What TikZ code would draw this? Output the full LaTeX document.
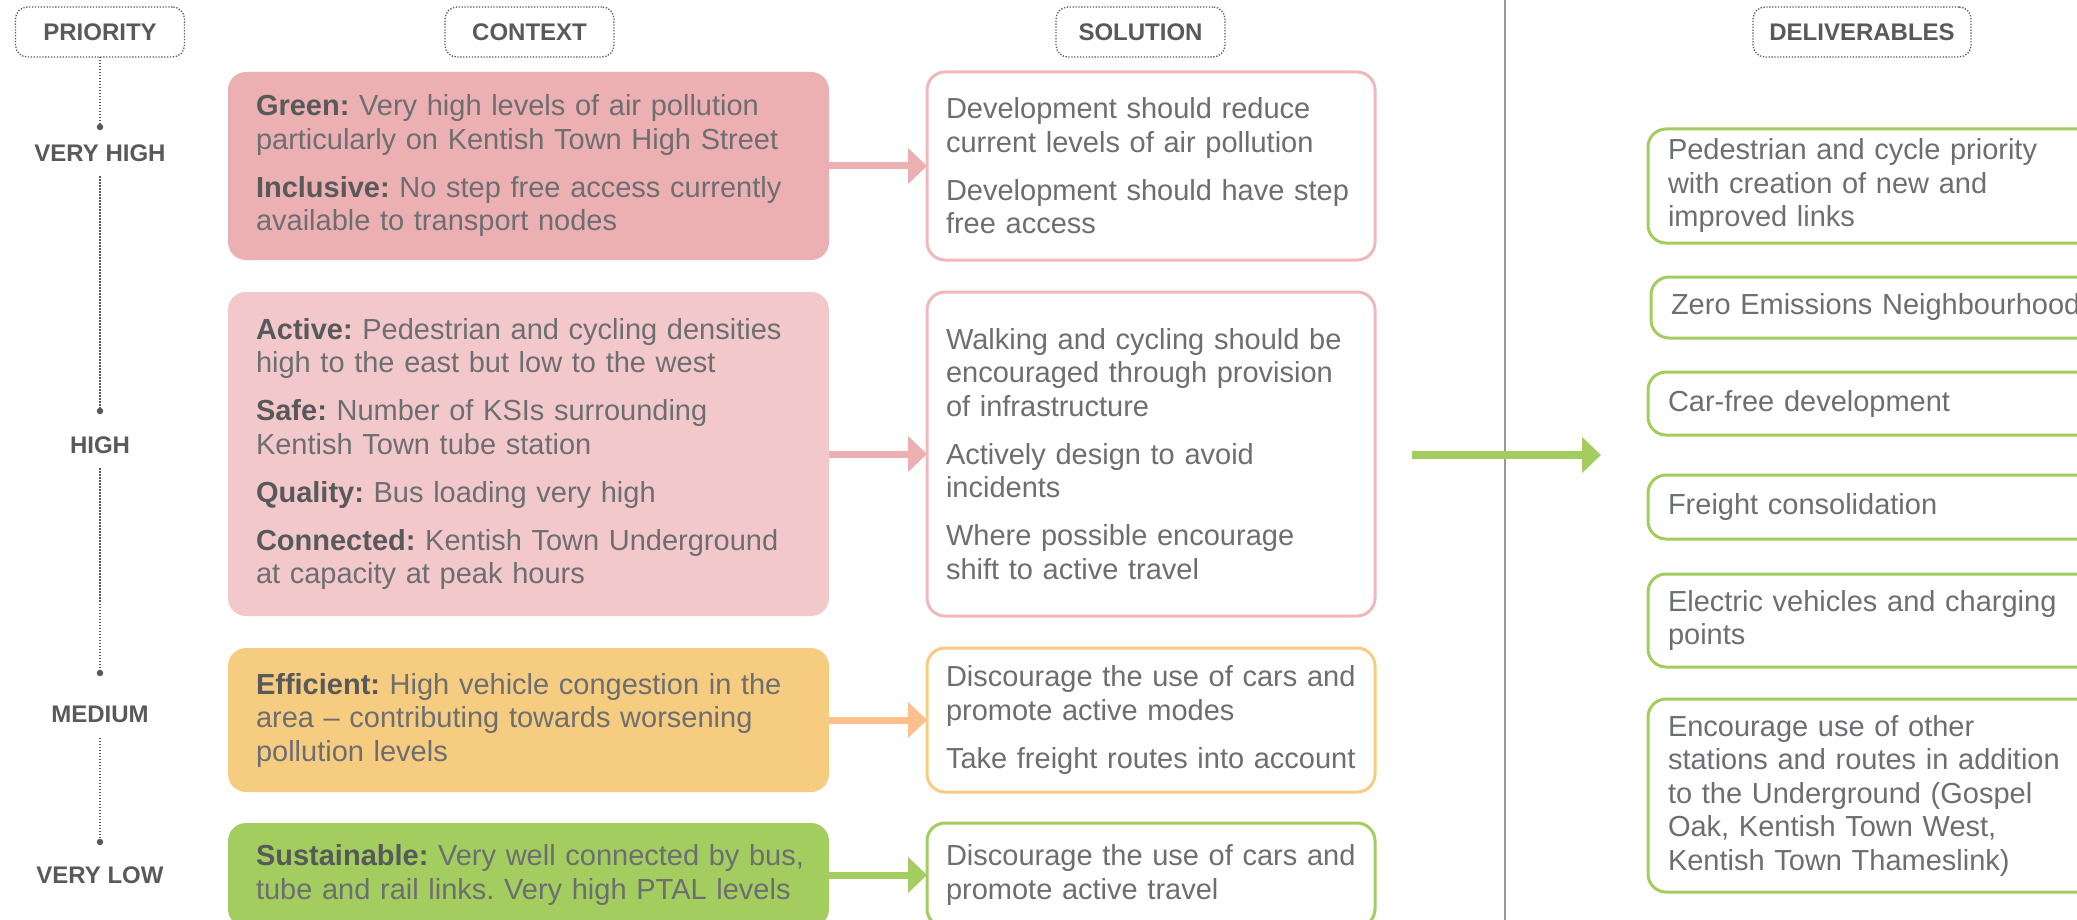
\documentclass[tikz,border=0pt]{standalone}
\usepackage{fontspec}
\setmainfont{Liberation Sans}
\usepackage{tikz}
\usetikzlibrary{arrows.meta, positioning}
\usepackage{xcolor}

\definecolor{txtgrey}{HTML}{6D6E71}
\definecolor{darkgrey}{HTML}{58595B}
\definecolor{redfill}{HTML}{EDB0B2}
\definecolor{pinkfill}{HTML}{F2C8CA}
\definecolor{orangefill}{HTML}{F6CC80}
\definecolor{greenfill}{HTML}{A3CD5F}
\definecolor{pinkline}{HTML}{EFB8BA}
\definecolor{peach}{HTML}{FBC08E}
\definecolor{sepgrey}{HTML}{9A9A9A}

\newcommand{\boldlbl}[1]{{\bfseries\color{darkgrey}#1}}
\frenchspacing

\begin{document}
\begin{tikzpicture}[x=1pt, y=-1pt,
    every node/.style={font=\fontsize{29}{33.5}\selectfont, text=txtgrey, outer sep=0pt},
    head/.style={draw=darkgrey, dash pattern=on 1.3pt off 1.6pt, line width=1.3pt,
        rounded corners=12pt, font=\fontsize{24}{28}\selectfont\bfseries, text=darkgrey,
        minimum width=169pt, minimum height=50pt, inner sep=0pt},
    prio/.style={font=\fontsize{24}{28}\selectfont\bfseries, text=darkgrey,
        inner xsep=0pt, inner ysep=15pt},
    dot/.style={circle, fill=darkgrey, inner sep=0pt, minimum size=6.5pt},
    pline/.style={darkgrey, line width=1.3pt, dash pattern=on 1.3pt off 1.7pt},
    ctx/.style={rounded corners=18pt, inner xsep=28pt, inner ysep=0pt,
        text width=545pt, align=left},
    sol/.style={draw, fill=white, line width=3pt, rounded corners=18pt,
        inner xsep=19pt, inner ysep=0pt, text width=410pt, align=left},
    dlv/.style={draw=greenfill, line width=3pt, rounded corners=18pt, anchor=west,
        inner xsep=20pt, inner ysep=0pt, text width=412pt, align=left},
    arr/.style={line width=7pt, -{Triangle[length=19pt, width=35pt]}}
  ]
\useasboundingbox (0,0) rectangle (2077,920);
\clip (0,0) rectangle (2077,920);

% column heads
\node[head] (prio) at (100,32) {PRIORITY};
\node[head] (ctxh) at (529.5,32) {CONTEXT};
\node[head] (solh) at (1140.5,32) {SOLUTION};
\node[head, minimum width=218pt] (delh) at (1862,32) {DELIVERABLES};

% priority scale
\node[prio] (vh) at (100,153) {VERY HIGH};
\node[prio] (hi) at (100,445) {HIGH};
\node[prio] (me) at (100,714.5) {MEDIUM};
\node[prio] (vl) at (100,875) {VERY LOW};
\node[dot] (d1) at (100,127) {};
\node[dot] (d2) at (100,411) {};
\node[dot] (d3) at (100,673) {};
\node[dot] (d4) at (100,842) {};
\draw[pline] (prio.south) -- (d1);
\draw[pline] (vh.south) -- (d2);
\draw[pline] (hi.south) -- (d3);
\draw[pline] (me.south) -- (d4);

% context
\node[ctx, fill=redfill, minimum height=188pt] (c1) at (528.5,166)
  {\boldlbl{Green:} Very high levels of air pollution\\
   particularly on Kentish Town High Street\\[14.5pt]
   \boldlbl{Inclusive:} No step free access currently\\
   available to transport nodes};
\node[ctx, fill=pinkfill, minimum height=324pt] (c2) at (528.5,454)
  {\boldlbl{Active:} Pedestrian and cycling densities\\
   high to the east but low to the west\\[14.5pt]
   \boldlbl{Safe:} Number of KSIs surrounding\\
   Kentish Town tube station\\[14.5pt]
   \boldlbl{Quality:} Bus loading very high\\[14.5pt]
   \boldlbl{Connected:} Kentish Town Underground\\
   at capacity at peak hours};
\node[ctx, fill=orangefill, minimum height=144pt] (c3) at (528.5,720)
  {\boldlbl{Efficient:} High vehicle congestion in the\\
   area -- contributing towards worsening\\
   pollution levels};
\node[ctx, fill=greenfill, minimum height=104pt] (c4) at (528.5,875)
  {\mbox{\boldlbl{Sustainable:} Very well connected by bus,}\\
   \mbox{tube and rail links. Very high PTAL levels}};

% solution
\node[sol, draw=pinkline, minimum height=188pt, right=98pt of c1] (s1)
  {Development should reduce\\
   current levels of air pollution\\[14.5pt]
   Development should have step\\
   free access};
\node[sol, draw=pinkline, minimum height=324pt, right=98pt of c2] (s2)
  {Walking and cycling should be\\
   encouraged through provision\\
   of infrastructure\\[14.5pt]
   Actively design to avoid\\
   incidents\\[14.5pt]
   Where possible encourage\\
   shift to active travel};
\node[sol, draw=orangefill, minimum height=144pt, right=98pt of c3] (s3)
  {Discourage the use of cars and\\
   promote active modes\\[14.5pt]
   Take freight routes into account};
\node[sol, draw=greenfill, minimum height=104pt, right=98pt of c4] (s4)
  {Discourage the use of cars and\\
   promote active travel};

\draw[arr, redfill] (c1.east) -- (s1.west);
\draw[arr, redfill] (c2.east) -- (s2.west);
\draw[arr, peach] (c3.east) -- (s3.west);
\draw[arr, greenfill] (c4.east) -- (s4.west);

% divider and deliverables
\draw[sepgrey, line width=1.5pt] (1505,0) -- (1505,920);
\coordinate (gofrom) at (1412,455);
\coordinate (goto) at (1601,455);
\draw[arr, line width=8pt, greenfill] (gofrom) -- (goto);

\node[dlv, minimum height=114pt] (dl1) at (1648,186)
  {Pedestrian and cycle priority\\with creation of new and\\improved links};
\node[dlv, minimum height=61pt] (dl2) at (1651,307.5) {Zero Emissions Neighbourhood};
\node[dlv, minimum height=63pt] (dl3) at (1648,403.5) {Car-free development};
\node[dlv, minimum height=64pt] (dl4) at (1648,507) {Freight consolidation};
\node[dlv, minimum height=93pt] (dl5) at (1648,620.5)
  {Electric vehicles and charging\\points};
\node[dlv, minimum height=193pt] (dl6) at (1648,795.5)
  {Encourage use of other\\stations and routes in addition\\to the Underground (Gospel\\
   Oak, Kentish Town West,\\Kentish Town Thameslink)};

\end{tikzpicture}
\end{document}
